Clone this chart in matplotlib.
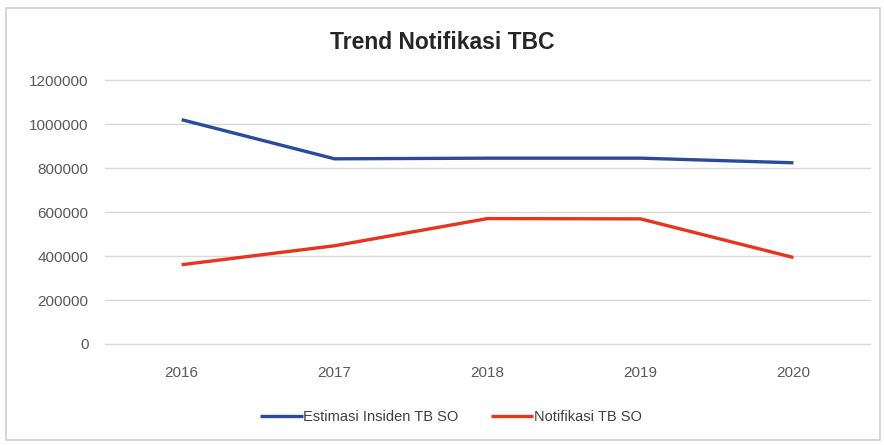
import matplotlib.pyplot as plt
from matplotlib.patches import Rectangle

years = ["2016", "2017", "2018", "2019", "2020"]
estimasi = [1020000, 842000, 845000, 845000, 824000]
notifikasi = [360565, 446732, 570289, 568987, 393323]
y_ticks = [0, 200000, 400000, 600000, 800000, 1000000, 1200000]

plt.rcParams["font.family"] = ["Liberation Sans", "DejaVu Sans"]

fig = plt.figure(figsize=(8.84, 4.45), dpi=100)
ax = fig.add_axes([0.119, 0.227, 0.865, 0.593])

x = list(range(len(years)))
ax.plot(x, estimasi, color="#2a4a9c", lw=2.4, label="Estimasi Insiden TB SO", solid_capstyle="butt")
ax.plot(x, notifikasi, color="#e8341f", lw=2.4, label="Notifikasi TB SO", solid_capstyle="butt")

ax.set_xlim(-0.5, len(years) - 0.5)
ax.set_ylim(0, 1200000)
ax.set_yticks(y_ticks)
ax.set_yticklabels([str(v) for v in y_ticks])
ax.set_xticks(x)
ax.set_xticklabels(years)
ax.tick_params(axis="both", length=0, labelsize=11, colors="#595959")
ax.tick_params(axis="y", pad=12)
ax.tick_params(axis="x", pad=16)
ax.grid(axis="y", color="#d9d9d9", lw=1)
for gl in ax.get_ygridlines():
    gl.set_clip_on(False)
ax.set_axisbelow(True)
for s in ax.spines.values():
    s.set_visible(False)

fig.text(0.5, 0.905, "Trend Notifikasi TBC", ha="center", va="center",
         fontsize=16.5, fontweight="bold", color="#262626")

fig.legend(loc="center", bbox_to_anchor=(0.51, 0.062), ncol=2, frameon=False,
           fontsize=10.5, handlelength=2.9, columnspacing=2.2, handletextpad=0.05,
           labelcolor="#404040")

fig.patches.append(Rectangle((0.007, 0.011), 0.988, 0.971, transform=fig.transFigure,
                             fill=False, edgecolor="#d0d0d0", lw=1.2))

fig.savefig("out.png", dpi=100)
